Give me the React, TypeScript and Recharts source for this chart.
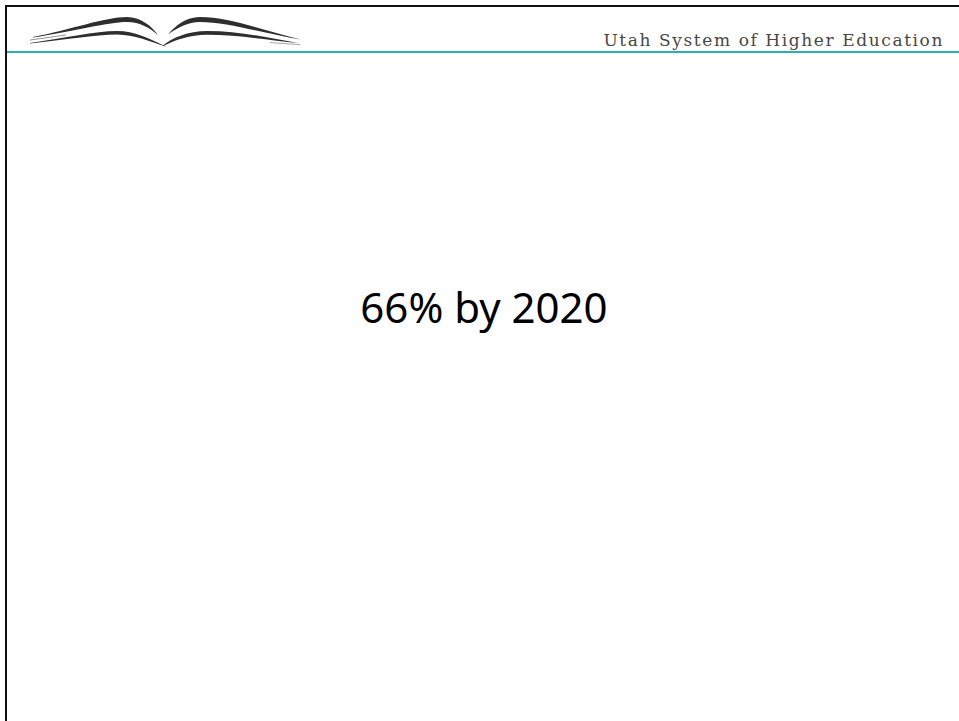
import { Surface, Layer, Text } from "recharts";

// slide content
const headerTitle = "Utah System of Higher Education";
const headlines = ["66% by 2020"];

const W = 959;
const H = 721;
const TEAL = "#2aafb3";
const INK = "#111";

// open-book logo in the header, left side
function BookLogo() {
  const fill = "#2e2e2e";
  return (
    <Layer>
      {/* left page */}
      <path fill={fill} d="M 33 37 C 70 30, 105 17, 127 17 C 140 17, 152 26, 158 35 C 150 28, 140 22, 127 22 C 108 22, 70 32, 33 37.6 Z" />
      <path fill={fill} d="M 30 43 C 65 38, 95 31, 117 31 C 135 31, 148 38, 167 47 C 148 41, 135 35, 117 34.6 C 95 34.6, 65 40, 30 43.6 Z" />
      {/* right page */}
      <path fill={fill} d="M 168 34.5 C 175 26, 186 17, 200 17 C 230 17, 265 31, 301 39.5 C 265 34, 228 22, 200 22 C 188 22, 177 28, 168 34.5 Z" />
      <path fill={fill} d="M 163 45.5 C 172 38, 188 31, 207 31 C 240 31, 270 38, 298 43 C 270 40.6, 240 34.8, 207 34.8 C 190 34.8, 175 40, 163 46.2 Z" />
      <path fill="none" stroke="#666" strokeWidth={0.7} d="M 30 40 C 45 38, 55 36.5, 66 35" />
      <path fill="none" stroke="#666" strokeWidth={0.6} d="M 300 44.5 C 290 44, 280 43.5, 270 42.5" />
    </Layer>
  );
}

export default function App() {
  return (
    <div style={{ position: "fixed", left: 0, top: 0, width: W, height: H, background: "#fff", overflow: "hidden" }}>
      <style>{"html,body{margin:0;padding:0;overflow:hidden}"}</style>
      <Surface width={W} height={H} viewBox={{ x: 0, y: 0, width: W, height: H }}>
        <rect x={0} y={0} width={W} height={H} fill="#fff" />
        {/* slide frame */}
        <line x1={5} y1={6} x2={W} y2={6} stroke={INK} strokeWidth={2} />
        <line x1={6} y1={5} x2={6} y2={H} stroke={INK} strokeWidth={2} />
        {/* header rule */}
        <line x1={7} y1={52} x2={W} y2={52} stroke={TEAL} strokeWidth={2} />
        <BookLogo />
        <Text x={944} y={46} textAnchor="end" fontFamily="DejaVu Serif" fontSize={17}
              letterSpacing={1.6} fill="#474747">
          {headerTitle}
        </Text>
        {headlines.map((t, i) => (
          <Text key={t} x={484} y={323 + i * 50} textAnchor="middle" fontFamily="Noto Sans"
                fontSize={42} fill="#000">
            {t}
          </Text>
        ))}
      </Surface>
    </div>
  );
}
